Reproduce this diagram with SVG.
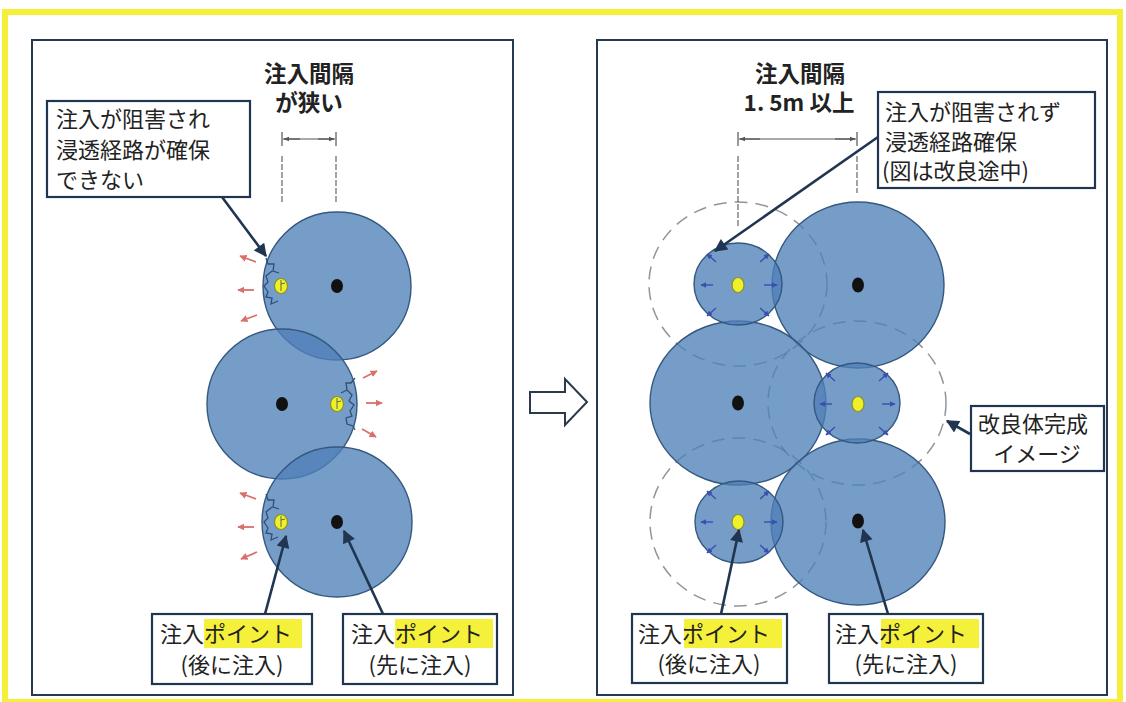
<svg xmlns="http://www.w3.org/2000/svg" width="1126" height="702" viewBox="0 0 1126 702">
<style>
.panel{fill:#fff;stroke:#243a52;stroke-width:2}
.box{fill:#fff;stroke:#1f3550;stroke-width:2.2}
.c{fill:#4f80b9;fill-opacity:0.78;stroke:#34587f;stroke-width:1.4}
.dash{fill:none;stroke:#1e2e40;stroke-opacity:0.5;stroke-width:1.5;stroke-dasharray:13 8}
.blk{fill:#111}
.yel{fill:#eef02a;stroke:#8a8f30;stroke-width:1.2}
.jag{fill:none;stroke:#2e5078;stroke-width:1.3}
.red{stroke:#d9706a;stroke-width:1.8;fill:none;marker-end:url(#mr)}
.blu{stroke:#3a4fb0;stroke-width:1.4;fill:none;marker-end:url(#mb)}
.con{stroke:#1f3550;stroke-width:2.6;fill:none;marker-end:url(#ma)}
.dim{stroke:#555;stroke-width:1.2;fill:none}
.dimv{stroke:#666;stroke-width:1.2;fill:none;stroke-dasharray:6 2}
.t{font-family:"Noto Sans CJK JP","Noto Sans",sans-serif;font-size:22px;fill:#222}
.tb{font-family:"Noto Sans CJK JP","Noto Sans",sans-serif;font-size:22.5px;font-weight:bold;fill:#222}
.hl{fill:#f5f03a}
</style>
<defs>
<marker id="ma" viewBox="0 0 10 10" refX="9" refY="5" markerWidth="6" markerHeight="5" orient="auto" markerUnits="strokeWidth"><path d="M0,0 L10,5 L0,10 Z" fill="#1f3550"/></marker>
<marker id="mr" viewBox="0 0 10 10" refX="9" refY="5" markerWidth="4" markerHeight="4" orient="auto" markerUnits="strokeWidth"><path d="M0,0 L10,5 L0,10 Z" fill="#d9706a"/></marker>
<marker id="mb" viewBox="0 0 10 10" refX="9" refY="5" markerWidth="4" markerHeight="4" orient="auto" markerUnits="strokeWidth"><path d="M0,0 L10,5 L0,10 Z" fill="#3a4fb0"/></marker>
<marker id="md" viewBox="0 0 10 10" refX="9" refY="5" markerWidth="5" markerHeight="5" orient="auto" markerUnits="strokeWidth"><path d="M0,1 L10,5 L0,9 Z" fill="#555"/></marker>
</defs>
<rect x="0" y="0" width="1126" height="702" fill="#fff"/>
<rect x="5" y="12" width="1115" height="690" fill="none" stroke="#f5ef3a" stroke-width="6"/>
<rect class="panel" x="32" y="40" width="481" height="655"/>
<rect class="panel" x="597" y="40" width="510" height="655"/>

<!-- transition arrow -->
<path id="transition" d="M530,392 L565,392 L565,379 L587,402 L565,425 L565,413 L530,413 Z" fill="#fff" stroke="#2a3a4a" stroke-width="2"/>

<!-- LEFT PANEL -->
<g id="left-title">
<text class="tb" x="309" y="82" text-anchor="middle">注入間隔</text>
<text class="tb" x="309" y="111" text-anchor="middle">が狭い</text>
<path class="dim" d="M283,139 L335,139 M282,132 L282,146 M336,132 L336,146"/>
<path class="dim" d="M300,139 L284,139" marker-end="url(#md)"/>
<path class="dim" d="M318,139 L334,139" marker-end="url(#md)"/>
<path class="dimv" d="M282,156 L282,203 M336,156 L336,203"/>
</g>
<g id="left-circle-top">
<circle class="c" cx="337" cy="286" r="74"/>
<path class="jag" d="M266,258 L268,264 L274,264 L273,271 L279,273 M272,271 L266,276 L268,282 L264,286 L268,292 L266,297 L272,298 L271,304 L278,301"/>
<ellipse class="blk" cx="337" cy="286" rx="6" ry="7"/>
<ellipse class="yel" cx="281" cy="286" rx="6.5" ry="7.5"/>
<path d="M281,280 L281,291 M281,284 L285,283" stroke="#555" stroke-width="0.9" fill="none"/>
<path class="red" d="M256,262 L240,256"/>
<path class="red" d="M254,290 L238,290"/>
<path class="red" d="M257,315 L241,321"/>
</g>
<g id="left-circle-middle">
<circle class="c" cx="282" cy="404" r="75"/>
<path class="jag" d="M355,378 L351,383 L346,383 L347,390 L341,393 M347,390 L352,395 L349,401 L354,405 L350,411 L352,416 L346,418 L347,424 L353,426 L355,430"/>
<ellipse class="blk" cx="282" cy="404" rx="6" ry="7"/>
<ellipse class="yel" cx="337" cy="404" rx="6.5" ry="7.5"/>
<path d="M337,398 L337,409 M337,402 L341,401" stroke="#555" stroke-width="0.9" fill="none"/>
<path class="red" d="M363,378 L377,371"/>
<path class="red" d="M366,403 L382,403"/>
<path class="red" d="M362,429 L376,437"/>
</g>
<g id="left-circle-bottom">
<circle class="c" cx="337" cy="522" r="75"/>
<path class="jag" d="M266,494 L268,500 L274,500 L273,507 L279,509 M272,507 L266,512 L268,518 L264,522 L268,528 L266,533 L272,534 L271,540 L278,537"/>
<ellipse class="blk" cx="337" cy="522" rx="6" ry="7"/>
<ellipse class="yel" cx="281" cy="522" rx="6.5" ry="7.5"/>
<path d="M281,516 L281,527 M281,520 L285,519" stroke="#555" stroke-width="0.9" fill="none"/>
<path class="red" d="M256,499 L240,493"/>
<path class="red" d="M254,527 L238,527"/>
<path class="red" d="M257,552 L241,559"/>
</g>
<g id="left-callout-blocked">
<rect class="box" x="47" y="101" width="203" height="96"/>
<text class="t" x="56" y="127">注入が阻害され</text>
<text class="t" x="56" y="158">浸透経路が確保</text>
<text class="t" x="56" y="188">できない</text>
</g>
<g id="left-label-later">
<rect class="box" x="152" y="614" width="160" height="70"/>
<rect class="hl" x="204" y="619" width="98" height="29"/>
<text class="t" x="160" y="642">注入ポイント</text>
<text class="t" x="232" y="673" text-anchor="middle">(後に注入)</text>
</g>
<g id="left-label-first">
<rect class="box" x="343" y="614" width="154" height="70"/>
<rect class="hl" x="395" y="619" width="98" height="29"/>
<text class="t" x="351" y="642">注入ポイント</text>
<text class="t" x="420" y="673" text-anchor="middle">(先に注入)</text>
</g>

<!-- RIGHT PANEL -->
<g id="right-title">
<text class="tb" x="800" y="82" text-anchor="middle">注入間隔</text>
<text class="tb" x="799" y="111" text-anchor="middle">1. 5m 以上</text>
<path class="dim" d="M738,132 L738,146 M857,132 L857,146 M739,139 L856,139"/>
<path class="dim" d="M760,139 L740,139" marker-end="url(#md)"/>
<path class="dim" d="M835,139 L855,139" marker-end="url(#md)"/>
<path class="dimv" d="M738,156 L738,227 M857,156 L857,193"/>
</g>
<g id="right-dashed">
<ellipse class="dash" cx="738" cy="284" rx="89" ry="82"/>
<ellipse class="dash" cx="857" cy="403" rx="89" ry="82"/>
<ellipse class="dash" cx="738" cy="522" rx="88" ry="84"/>
</g>
<g id="right-big-top">
<ellipse class="c" cx="858" cy="285" rx="86" ry="83"/>
<ellipse class="blk" cx="858" cy="285" rx="6" ry="7.5"/>
</g>
<g id="right-big-middle">
<ellipse class="c" cx="738" cy="403" rx="88" ry="82"/>
<ellipse class="blk" cx="738" cy="403" rx="6" ry="7.5"/>
</g>
<g id="right-big-bottom">
<ellipse class="c" cx="858" cy="522" rx="87" ry="83"/>
<ellipse class="blk" cx="858" cy="521" rx="6" ry="7.5"/>
</g>
<g id="right-small-top">
<ellipse class="c" cx="738" cy="284" rx="44" ry="41"/>
<ellipse class="yel" cx="738" cy="285" rx="6" ry="7.5"/>
<path class="blu" d="M713,285 L701,285"/><path class="blu" d="M764,285 L777,285"/>
<path class="blu" d="M716,262 L707,254"/><path class="blu" d="M760,262 L769,254"/>
<path class="blu" d="M716,308 L707,316"/><path class="blu" d="M760,308 L769,316"/>
</g>
<g id="right-small-middle">
<ellipse class="c" cx="857" cy="403" rx="43" ry="40"/>
<ellipse class="yel" cx="858" cy="404" rx="6" ry="7.5"/>
<path class="blu" d="M832,404 L820,404"/><path class="blu" d="M882,404 L895,404"/>
<path class="blu" d="M835,381 L826,373"/><path class="blu" d="M879,381 L888,373"/>
<path class="blu" d="M835,427 L826,435"/><path class="blu" d="M879,427 L888,435"/>
</g>
<g id="right-small-bottom">
<ellipse class="c" cx="739" cy="522" rx="44" ry="41"/>
<ellipse class="yel" cx="738" cy="522" rx="6" ry="7.5"/>
<path class="blu" d="M713,522 L701,522"/><path class="blu" d="M764,522 L777,522"/>
<path class="blu" d="M716,499 L707,491"/><path class="blu" d="M760,499 L769,491"/>
<path class="blu" d="M716,545 L707,553"/><path class="blu" d="M760,545 L769,553"/>
</g>
<g id="right-callout-ok">
<rect class="box" x="878" y="92" width="217" height="96"/>
<text class="t" x="885" y="120">注入が阻害されず</text>
<text class="t" x="885" y="150">浸透経路確保</text>
<text class="t" x="882" y="179">(図は改良途中)</text>
</g>
<g id="right-callout-image">
<rect class="box" x="971" y="406" width="133" height="65"/>
<text class="t" x="978" y="432">改良体完成</text>
<text class="t" x="1037" y="462" text-anchor="middle">イメージ</text>
</g>
<g id="right-label-later">
<rect class="box" x="632" y="614" width="155" height="69"/>
<rect class="hl" x="684" y="619" width="98" height="29"/>
<text class="t" x="638" y="642">注入ポイント</text>
<text class="t" x="709" y="672" text-anchor="middle">(後に注入)</text>
</g>
<g id="right-label-first">
<rect class="box" x="829" y="614" width="154" height="69"/>
<rect class="hl" x="881" y="619" width="98" height="29"/>
<text class="t" x="835" y="642">注入ポイント</text>
<text class="t" x="906" y="672" text-anchor="middle">(先に注入)</text>
</g>

<g id="connectors">
<path class="con" d="M222,197 L266,256"/>
<path class="con" d="M265,614 L286,536"/>
<path class="con" d="M383,614 L344,531"/>
<path class="con" d="M878,137 L715,251"/>
<path class="con" d="M970,434 L947,421"/>
<path class="con" d="M721,614 L739,530"/>
<path class="con" d="M888,614 L863,530"/>
</g>
</svg>
